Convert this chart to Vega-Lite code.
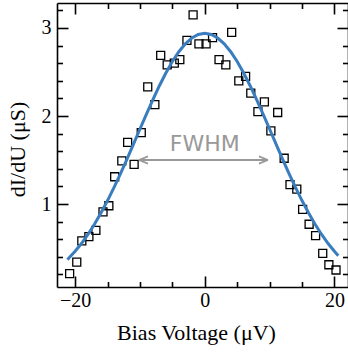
{
  "$schema": "https://vega.github.io/schema/vega-lite/v6.json",
  "width": 291,
  "height": 284,
  "autosize": {"type": "none"},
  "padding": {"left": 57, "top": 3, "right": 0, "bottom": 66},
  "background": "white",
  "config": {
    "view": {"stroke": null},
    "axis": {
      "grid": false,
      "domainColor": "black",
      "domainWidth": 1.6,
      "tickColor": "black",
      "tickWidth": 1.6,
      "labelFont": "Liberation Serif",
      "labelFontSize": 20,
      "labelColor": "black",
      "labelFlush": false,
      "labelOverlap": false,
      "titleFont": "Liberation Serif",
      "titleFontSize": 22,
      "titleFontWeight": "normal",
      "titleColor": "black"
    }
  },
  "datasets": {
    "pts": [
      {"x": -20.85, "y": 0.21}, {"x": -19.75, "y": 0.34}, {"x": -18.97, "y": 0.58}, {"x": -17.88, "y": 0.63},
      {"x": -16.8, "y": 0.7}, {"x": -15.7, "y": 0.91}, {"x": -14.8, "y": 0.98}, {"x": -13.9, "y": 1.31},
      {"x": -12.8, "y": 1.49}, {"x": -11.9, "y": 1.7}, {"x": -10.9, "y": 1.45}, {"x": -9.8, "y": 1.81},
      {"x": -8.8, "y": 2.33}, {"x": -7.7, "y": 2.13}, {"x": -6.8, "y": 2.69}, {"x": -5.8, "y": 2.58},
      {"x": -4.7, "y": 2.6}, {"x": -3.85, "y": 2.64}, {"x": -2.75, "y": 2.86}, {"x": -1.8, "y": 3.15},
      {"x": -0.9, "y": 2.82}, {"x": 0.2, "y": 2.82}, {"x": 1.2, "y": 2.89}, {"x": 2.2, "y": 2.64},
      {"x": 3.25, "y": 2.58}, {"x": 4.15, "y": 2.95}, {"x": 5.25, "y": 2.4}, {"x": 6.3, "y": 2.45},
      {"x": 7.1, "y": 2.26}, {"x": 8.2, "y": 2.05}, {"x": 9.2, "y": 2.16}, {"x": 10.2, "y": 1.83},
      {"x": 11.25, "y": 2.04}, {"x": 12.25, "y": 1.52}, {"x": 13.15, "y": 1.22}, {"x": 14.2, "y": 1.17},
      {"x": 15.1, "y": 0.94}, {"x": 16.1, "y": 0.77}, {"x": 17.1, "y": 0.64}, {"x": 18.2, "y": 0.44},
      {"x": 19.15, "y": 0.31}, {"x": 20.25, "y": 0.25}
    ],
    "fit": [
      {"x": -21.2, "y": 0.368}, {"x": -21, "y": 0.383}, {"x": -20, "y": 0.463}, {"x": -19, "y": 0.554},
      {"x": -18, "y": 0.657}, {"x": -17, "y": 0.773}, {"x": -16, "y": 0.9}, {"x": -15, "y": 1.039},
      {"x": -14, "y": 1.188}, {"x": -13, "y": 1.346}, {"x": -12, "y": 1.511}, {"x": -11, "y": 1.68},
      {"x": -10, "y": 1.852}, {"x": -9, "y": 2.022}, {"x": -8, "y": 2.187}, {"x": -7, "y": 2.344},
      {"x": -6, "y": 2.489}, {"x": -5, "y": 2.619}, {"x": -4, "y": 2.73}, {"x": -3, "y": 2.82},
      {"x": -2, "y": 2.886}, {"x": -1, "y": 2.926}, {"x": 0, "y": 2.94}, {"x": 1, "y": 2.926},
      {"x": 2, "y": 2.886}, {"x": 3, "y": 2.82}, {"x": 4, "y": 2.73}, {"x": 5, "y": 2.619},
      {"x": 6, "y": 2.489}, {"x": 7, "y": 2.344}, {"x": 8, "y": 2.187}, {"x": 9, "y": 2.022},
      {"x": 10, "y": 1.852}, {"x": 11, "y": 1.68}, {"x": 12, "y": 1.511}, {"x": 13, "y": 1.346},
      {"x": 14, "y": 1.188}, {"x": 15, "y": 1.039}, {"x": 16, "y": 0.9}, {"x": 17, "y": 0.773},
      {"x": 18, "y": 0.657}, {"x": 19, "y": 0.554}, {"x": 20, "y": 0.463}, {"x": 20.6, "y": 0.413}
    ],
    "arrow": [{"x1": -10.15, "x2": 9.75, "y": 1.5}],
    "heads": [{"x": -10.15, "y": 1.5, "dir": "L"}, {"x": 9.75, "y": 1.5, "dir": "R"}],
    "label": [{"x": 0, "y": 1.6, "text": "FWHM"}]
  },
  "layer": [
    {
      "data": {"name": "pts"},
      "mark": {"type": "point", "shape": "square", "filled": false, "stroke": "black", "strokeWidth": 1.3, "size": 64, "opacity": 1},
      "encoding": {
        "x": {
          "field": "x", "type": "quantitative",
          "scale": {"domain": [-22.8, 22.1], "nice": false, "zero": false},
          "axis": {
            "orient": "bottom",
            "values": [-20, -15, -10, -5, 0, 5, 10, 15, 20],
            "tickSize": {"condition": {"test": "abs(datum.value) % 20 === 0", "value": -11}, "value": -5.5},
            "labelExpr": "abs(datum.value) % 20 === 0 ? datum.label : ''",
            "labelPadding": 14,
            "title": "Bias Voltage (μV)",
            "titleX": 139,
            "titleY": 52,
            "titleBaseline": "alphabetic"
          }
        },
        "y": {
          "field": "y", "type": "quantitative",
          "scale": {"domain": [0.057, 3.284], "nice": false, "zero": false},
          "axis": {
            "orient": "left",
            "values": [0.2, 0.4, 0.6, 0.8, 1, 1.2, 1.4, 1.6, 1.8, 2, 2.2, 2.4, 2.6, 2.8, 3, 3.2],
            "tickSize": {"condition": {"test": "abs(datum.value - round(datum.value)) < 0.001", "value": -11}, "value": -5.5},
            "labelExpr": "abs(datum.value - round(datum.value)) < 0.001 ? format(datum.value, 'd') : ''",
            "labelPadding": 17,
            "title": "dI/dU (μS)",
            "titleAngle": 270,
            "titleX": -33,
            "titleY": 146,
            "titleAlign": "center",
            "titleBaseline": "alphabetic"
          }
        }
      }
    },
    {
      "data": {"name": "fit"},
      "mark": {"type": "line", "color": "#3a7dbf", "strokeWidth": 3},
      "encoding": {
        "x": {
          "field": "x", "type": "quantitative",
          "axis": {
            "orient": "top",
            "values": [-20, -15, -10, -5, 0, 5, 10, 15, 20],
            "tickSize": {"condition": {"test": "abs(datum.value) % 20 === 0", "value": -11}, "value": -5.5},
            "labels": false,
            "title": null
          }
        },
        "y": {
          "field": "y", "type": "quantitative",
          "axis": {
            "orient": "right",
            "values": [0.2, 0.4, 0.6, 0.8, 1, 1.2, 1.4, 1.6, 1.8, 2, 2.2, 2.4, 2.6, 2.8, 3, 3.2],
            "tickSize": {"condition": {"test": "abs(datum.value - round(datum.value)) < 0.001", "value": -11}, "value": -5.5},
            "labels": false,
            "title": null
          }
        }
      }
    },
    {
      "data": {"name": "arrow"},
      "mark": {"type": "rule", "color": "#999999", "strokeWidth": 1.8},
      "encoding": {
        "x": {"field": "x1", "type": "quantitative", "axis": null},
        "x2": {"field": "x2"},
        "y": {"field": "y", "type": "quantitative", "axis": null}
      }
    },
    {
      "data": {"name": "heads"},
      "mark": {"type": "point", "filled": false, "stroke": "#999999", "strokeWidth": 1.8, "size": 81, "opacity": 1},
      "encoding": {
        "x": {"field": "x", "type": "quantitative", "axis": null},
        "y": {"field": "y", "type": "quantitative", "axis": null},
        "shape": {
          "field": "dir", "type": "nominal", "legend": null,
          "scale": {"domain": ["L", "R"], "range": ["M0,0L2,-0.8M0,0L2,0.8", "M0,0L-2,-0.8M0,0L-2,0.8"]}
        }
      }
    },
    {
      "data": {"name": "label"},
      "mark": {"type": "text", "font": "DejaVu Sans", "fontSize": 22, "color": "#999999", "align": "center", "baseline": "alphabetic"},
      "encoding": {
        "x": {"field": "x", "type": "quantitative", "axis": null},
        "y": {"field": "y", "type": "quantitative", "axis": null},
        "text": {"field": "text"}
      }
    }
  ],
  "resolve": {"axis": {"x": "independent", "y": "independent"}}
}
